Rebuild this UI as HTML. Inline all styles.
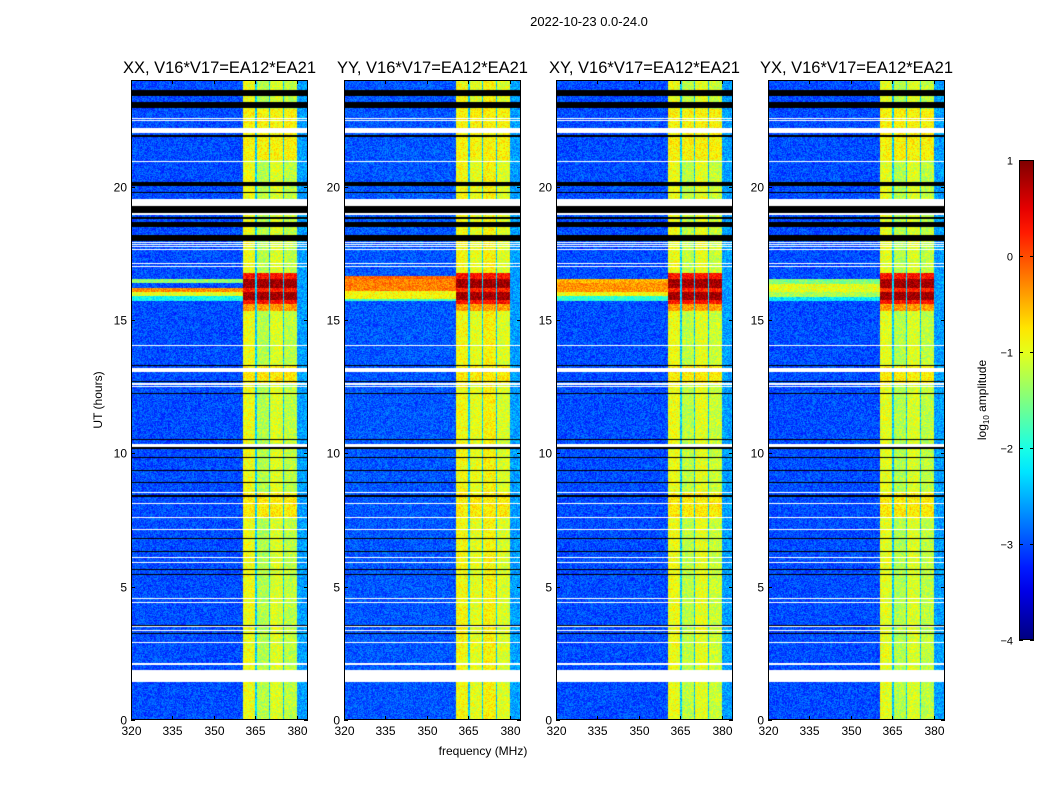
<!DOCTYPE html>
<html><head><meta charset="utf-8">
<style>
body{margin:0;background:#fff;width:1050px;height:800px;overflow:hidden;font-family:"Liberation Sans",sans-serif;}
#root{position:relative;width:1050px;height:800px;}
canvas{position:absolute;}
svg{position:absolute;left:0;top:0;}
</style></head><body>
<div id="root">
<svg id="ov" width="1050" height="800"></svg>
</div>
<script>
// ---- data ----
const panelTitles = ["XX, V16*V17=EA12*EA21","YY, V16*V17=EA12*EA21","XY, V16*V17=EA12*EA21","YX, V16*V17=EA12*EA21"];
const xTicks = [320,335,350,365,380];
const yTicks = [0,5,10,15,20];
const cbTicks = [1,0,-1,-2,-3,-4];
// frequency bands [startMHz, endMHz]
const bandEdges = [[360.4,365.0],[365.5,370.0],[370.4,375.0],[375.4,380.0]];
// band base log amplitude per panel
const bandLevels = [
  [-0.95,-1.25,-1.05,-1.2],
  [-0.9,-1.0,-0.85,-1.05],
  [-0.95,-1.2,-1.0,-1.15],
  [-1.0,-1.25,-1.05,-1.2]
];
const bgLevel = [-3.0,-2.95,-3.0,-3.0];
const edgeLevel = -2.6; // region above 380 MHz
// event rows: [startHr, endHr, bandValue]
const bandEvents = [
  [16.55,16.75,0.3],[16.2,16.55,0.85],[16.05,16.2,0.2],[15.75,16.05,0.85],
  [15.6,15.75,0.3],[15.35,15.6,-0.4],[21.0,22.9,-0.85],[12.6,13.3,-0.8],[7.6,8.5,-0.8]
];
// background event rows per panel: [startHr, endHr, value]
const bgEvents = [
  [[16.4,16.55,-1.4],[16.05,16.2,-0.3],[15.9,16.05,-1.0],[15.7,15.9,-2.1]],
  [[16.55,16.65,-0.1],[16.1,16.55,-0.25],[15.8,16.1,-0.9],[15.7,15.8,-1.8]],
  [[16.4,16.55,-0.5],[16.05,16.4,-0.35],[15.9,16.05,-0.9],[15.7,15.9,-1.9]],
  [[16.35,16.55,-1.5],[16.05,16.35,-1.0],[15.85,16.05,-1.3],[15.7,15.85,-2.2]]
];
// flagged rows: [startHr, endHr, type] w=white(no data), k=black
const flags = [
  [23.4,23.62,'k'],[22.94,23.16,'k'],[22.53,22.57,'w'],[22.45,22.49,'w'],[22.0,22.2,'w'],
  [21.88,21.92,'k'],[20.91,20.95,'w'],[20.03,20.18,'k'],[19.75,19.79,'k'],[19.27,19.53,'w'],
  [19.02,19.27,'k'],[18.92,19.0,'w'],[18.8,18.85,'k'],[18.5,18.67,'k'],[17.97,18.19,'k'],
  [17.88,17.92,'w'],[17.8,17.84,'w'],[17.72,17.76,'w'],[17.64,17.68,'w'],[17.1,17.14,'w'],
  [16.98,17.02,'w'],[14.04,14.08,'w'],[13.28,13.32,'k'],[13.05,13.2,'w'],[12.67,12.71,'k'],
  [12.58,12.62,'w'],[12.48,12.52,'w'],[12.24,12.28,'k'],[10.5,10.54,'k'],[10.25,10.35,'w'],
  [10.18,10.22,'k'],[9.84,9.88,'k'],[9.33,9.37,'k'],[8.88,8.92,'k'],[8.51,8.55,'w'],
  [8.38,8.42,'k'],[8.11,8.15,'w'],[7.58,7.62,'w'],[7.14,7.18,'w'],[6.8,6.84,'k'],
  [6.29,6.33,'k'],[6.07,6.11,'w'],[5.87,5.91,'w'],[5.64,5.68,'k'],[5.42,5.46,'k'],
  [4.55,4.59,'w'],[4.37,4.41,'w'],[3.54,3.58,'k'],[3.48,3.52,'w'],[3.35,3.39,'w'],
  [3.24,3.28,'k'],[2.9,2.94,'w'],[2.08,2.12,'w'],[1.44,1.87,'w']
];
// ---- layout ----
const panelLeft = [131,344,556,768];
const PW=177, PT=80, PH=640;
const fMin=320, fMax=384, tMin=0, tMax=24;
const xs = (p,f)=>panelLeft[p]+(f-fMin)/(fMax-fMin)*PW;
const ys = h=>PT+PH-(h-tMin)/(tMax-tMin)*PH;
function jet(v){let t=(v+4)/5;t=Math.max(0,Math.min(1,t));
  const c=x=>Math.round(255*Math.max(0,Math.min(1,x)));
  return [c(1.5-Math.abs(4*t-3)),c(1.5-Math.abs(4*t-2)),c(1.5-Math.abs(4*t-1))];}
function hash(a,b){let h=(a*374761393+b*668265263)|0;h=(h^(h>>>13))*1274126177|0;return ((h^(h>>>16))>>>0)/4294967296;}
const root=document.getElementById('root');
const ov=document.getElementById('ov');
const NS='http://www.w3.org/2000/svg';
function sv(tag,attrs,txt){const e=document.createElementNS(NS,tag);for(const k in attrs)e.setAttribute(k,attrs[k]);if(txt!==undefined)e.textContent=txt;ov.appendChild(e);return e;}

for(let p=0;p<4;p++){
  const cv=document.createElement('canvas');
  
  
  cv.width=PW;cv.height=PH;cv.style.left=panelLeft[p]+'px';cv.style.top=PT+'px';
  root.insertBefore(cv,ov);
  const ctx=cv.getContext('2d');const img=ctx.createImageData(PW,PH);
  for(let y=0;y<PH;y++){
    const h=tMax-(y+0.5)/PH*(tMax-tMin);
    let flag=null;for(const f of flags){if(h>=f[0]&&h<f[1]){flag=f[2];break;}}
    let bev=null;for(const e of bandEvents){if(h>=e[0]&&h<e[1]){bev=e[2];break;}}
    let gev=null;for(const e of bgEvents[p]){if(h>=e[0]&&h<e[1]){gev=e[2];break;}}
    for(let x=0;x<PW;x++){
      const f=fMin+(x+0.5)/PW*(fMax-fMin);
      let v=bgLevel[p];
      if(f>380.2)v=edgeLevel;
      let inBand=-1;
      for(let b=0;b<bandEdges.length;b++){if(f>=bandEdges[b][0]&&f<bandEdges[b][1]){inBand=b;break;}}
      if(inBand>=0){v=bandLevels[p][inBand];if(bev!==null)v=Math.max(v,bev);}
      else if(gev!==null&&f<360.4){v=gev;}
      else if(f>=360.4&&f<380.2){v=-2.4;}
      v+= (hash(x+p*1000,y)-0.5)*0.6;
      let c=jet(v);
      if(flag==='w')c=[255,255,255];else if(flag==='k')c=[0,0,0];
      const i=(y*PW+x)*4;img.data[i]=c[0];img.data[i+1]=c[1];img.data[i+2]=c[2];img.data[i+3]=255;
    }
  }
  ctx.putImageData(img,0,0);
  const fr=sv('rect',{x:panelLeft[p]+0.5,y:PT+0.5,width:PW-1,height:PH-1,fill:'none',stroke:'#000','stroke-width':1});
  
  
  const tt=sv('text',{x:panelLeft[p]+PW/2,y:73,'text-anchor':'middle','font-size':16.5,fill:'#000'},panelTitles[p]);
  
  
  for(const t of xTicks){const X=Math.round(xs(p,t))+0.5;
    sv('line',{x1:X,x2:X,y1:PT+PH,y2:PT+PH-4,stroke:'#000'});
    sv('line',{x1:X,x2:X,y1:PT,y2:PT+4,stroke:'#000'});
    const l=sv('text',{x:X,y:PT+PH+15,'text-anchor':'middle','font-size':12},String(t));
    
    }
  for(const t of yTicks){const Y=Math.round(ys(t))+0.5;
    sv('line',{x1:panelLeft[p],x2:panelLeft[p]+4,y1:Y,y2:Y,stroke:'#000'});
    sv('line',{x1:panelLeft[p]+PW,x2:panelLeft[p]+PW-4,y1:Y,y2:Y,stroke:'#000'});
    const l=sv('text',{x:panelLeft[p]-4,y:Y+4,'text-anchor':'end','font-size':12},String(t));
    
    }
}
const st=sv('text',{x:589,y:26,'text-anchor':'middle','font-size':13},'2022-10-23 0.0-24.0');


const yl=sv('text',{x:0,y:0,'text-anchor':'middle','font-size':12,transform:'translate(102,400) rotate(-90)'},'UT (hours)');


const xl=sv('text',{x:483,y:755,'text-anchor':'middle','font-size':12},'frequency (MHz)');


// colorbar
const CBX=1019,CBW=15,CBT=160,CBH=480;
const defs=sv('defs',{});const g=document.createElementNS(NS,'linearGradient');
g.setAttribute('id','jetg');g.setAttribute('x1','0');g.setAttribute('y1','1');g.setAttribute('x2','0');g.setAttribute('y2','0');
defs.appendChild(g);
for(let i=0;i<=20;i++){const v=-4+5*i/20;const c=jet(v);const s=document.createElementNS(NS,'stop');
  s.setAttribute('offset',(i/20));s.setAttribute('stop-color','rgb('+c.join(',')+')');g.appendChild(s);}
const cb=sv('rect',{x:CBX+0.5,y:CBT+0.5,width:CBW-1,height:CBH-1,fill:'url(#jetg)',stroke:'#000'});


for(const t of cbTicks){const Y=Math.round(CBT+CBH-(t+4)/5*CBH)+0.5;
  sv('line',{x1:CBX,x2:CBX+4,y1:Y,y2:Y,stroke:'#000'});
  sv('line',{x1:CBX+CBW,x2:CBX+CBW-4,y1:Y,y2:Y,stroke:'#000'});
  const l=sv('text',{x:CBX-6,y:Y+4,'text-anchor':'end','font-size':11},t<0?'\u2212'+(-t):String(t));
  
  }
const cl=sv('text',{x:0,y:0,'text-anchor':'middle','font-size':12,transform:'translate(986,400) rotate(-90)'});


cl.innerHTML='log<tspan font-size="8" dy="3">10</tspan><tspan dy="-3"> amplitude</tspan>';
</script>
</body></html>
